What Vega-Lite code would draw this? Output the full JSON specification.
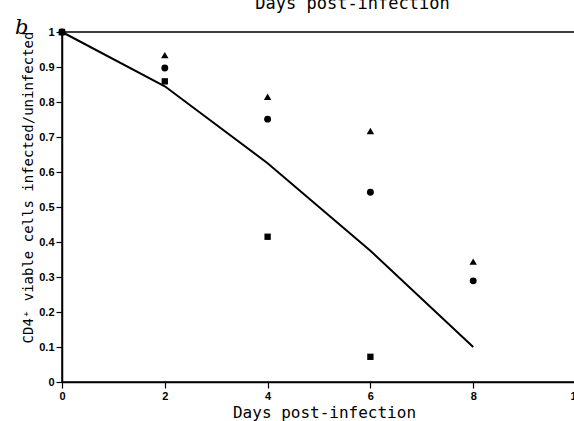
{
  "$schema": "https://vega.github.io/schema/vega-lite/v6.json",
  "width": 514,
  "height": 350,
  "autosize": {"type": "none"},
  "padding": {"left": 62, "top": 32, "right": 0, "bottom": 39},
  "background": "white",
  "title": {"text": "b", "anchor": "start", "frame": "group", "dx": -47, "offset": -61, "baseline": "alphabetic", "font": "DejaVu Serif", "fontStyle": "italic", "fontWeight": "normal", "fontSize": 21, "color": "black"},
  "datasets": {
    "curve": [
      {"day": 0, "ratio": 1.0},
      {"day": 2, "ratio": 0.845},
      {"day": 4, "ratio": 0.625},
      {"day": 6, "ratio": 0.375},
      {"day": 8, "ratio": 0.1}
    ],
    "obs": [
      {"day": 0, "ratio": 1.0, "group": "A"},
      {"day": 2, "ratio": 0.934, "group": "A"},
      {"day": 4, "ratio": 0.815, "group": "A"},
      {"day": 6, "ratio": 0.717, "group": "A"},
      {"day": 8, "ratio": 0.344, "group": "A"},
      {"day": 0, "ratio": 1.0, "group": "B"},
      {"day": 2, "ratio": 0.897, "group": "B"},
      {"day": 4, "ratio": 0.751, "group": "B"},
      {"day": 6, "ratio": 0.542, "group": "B"},
      {"day": 8, "ratio": 0.289, "group": "B"},
      {"day": 0, "ratio": 1.0, "group": "C"},
      {"day": 2, "ratio": 0.859, "group": "C"},
      {"day": 4, "ratio": 0.415, "group": "C"},
      {"day": 6, "ratio": 0.072, "group": "C"}
    ]
  },
  "layer": [
    {
      "data": {"name": "curve"},
      "mark": {"type": "line", "color": "black", "strokeWidth": 2},
      "encoding": {
        "x": {"field": "day", "type": "quantitative", "scale": {"domain": [0, 10], "nice": false},
          "axis": {"orient": "bottom", "values": [0, 2, 4, 6, 8, 10], "format": "d", "grid": false, "labelFlush": false, "labelOverlap": false, "labelBound": false,
            "domainColor": "black", "domainWidth": 1.5, "tickColor": "black", "tickSize": 6, "tickWidth": 1.2,
            "labelFont": "Liberation Sans", "labelFontWeight": "bold", "labelFontSize": 11, "labelColor": "black", "labelPadding": 2,
            "title": "Days post-infection", "titleFont": "DejaVu Sans Mono", "titleFontSize": 16, "titleFontWeight": "normal", "titleColor": "black",
            "titleX": 262, "titleY": 35, "titleBaseline": "alphabetic", "titleAlign": "center"}},
        "y": {"field": "ratio", "type": "quantitative", "scale": {"domain": [0, 1], "nice": false},
          "axis": {"values": [0, 0.1, 0.2, 0.3, 0.4, 0.5, 0.6, 0.7, 0.8, 0.9, 1], "tickCount": 11, "format": "~g", "grid": false, "labelOverlap": false, "labelFlush": false,
            "domainColor": "black", "domainWidth": 1.5, "tickColor": "black", "tickSize": 6, "tickWidth": 1.2,
            "labelFont": "Liberation Sans", "labelFontWeight": "bold", "labelFontSize": 11, "labelColor": "black", "labelPadding": 2,
            "title": "CD4⁺ viable cells infected/uninfected", "titleFont": "DejaVu Sans Mono", "titleFontSize": 14, "titleFontWeight": "normal", "titleColor": "black",
            "titleX": -30, "titleY": 155, "titleBaseline": "alphabetic", "titleAlign": "center"}}
      }
    },
    {
      "data": {"name": "obs"},
      "mark": {"type": "point", "filled": true, "color": "black", "opacity": 1},
      "encoding": {
        "x": {"field": "day", "type": "quantitative", "scale": {"domain": [0, 10], "nice": false},
          "axis": {"orient": "top", "labels": false, "ticks": false, "domain": false, "grid": false,
            "title": "Days post-infection", "titleFont": "DejaVu Sans Mono", "titleFontSize": 17, "titleFontWeight": "normal", "titleColor": "black",
            "titleX": 290, "titleY": -24, "titleBaseline": "alphabetic", "titleAlign": "center"}},
        "y": {"field": "ratio", "type": "quantitative", "scale": {"domain": [0, 1], "nice": false},
          "axis": {"values": [0, 0.1, 0.2, 0.3, 0.4, 0.5, 0.6, 0.7, 0.8, 0.9, 1], "tickCount": 11, "format": "~g", "grid": false, "labelOverlap": false, "labelFlush": false,
            "domainColor": "black", "domainWidth": 1.5, "tickColor": "black", "tickSize": 6, "tickWidth": 1.2,
            "labelFont": "Liberation Sans", "labelFontWeight": "bold", "labelFontSize": 11, "labelColor": "black", "labelPadding": 2,
            "title": "CD4⁺ viable cells infected/uninfected", "titleFont": "DejaVu Sans Mono", "titleFontSize": 14, "titleFontWeight": "normal", "titleColor": "black",
            "titleX": -30, "titleY": 155, "titleBaseline": "alphabetic", "titleAlign": "center"}},
        "shape": {"field": "group", "type": "nominal", "scale": {"domain": ["A", "B", "C"], "range": ["triangle-up", "circle", "square"]}, "legend": null},
        "size": {"field": "group", "type": "ordinal", "scale": {"domain": ["A", "B", "C"], "range": [55, 40, 36]}, "legend": null}
      }
    }
  ],
  "resolve": {"axis": {"x": "independent"}},
  "config": {"view": {"stroke": "black", "strokeWidth": 1.5}}
}
